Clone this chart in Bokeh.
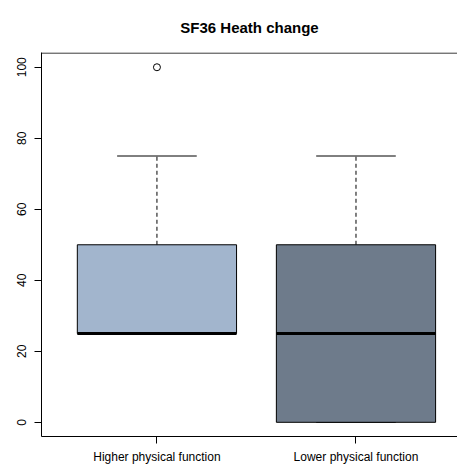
from bokeh.plotting import figure
from bokeh.models import Range1d, FixedTicker, ColumnDataSource, Span
from bokeh.embed import file_html
from bokeh.resources import INLINE

# Summary statistics of SF36 health change per group
groups = ["Higher physical function", "Lower physical function"]
positions = [1, 2]
lower_whisker = [25, 0]
q1 = [25, 0]
median = [25, 25]
q3 = [50, 50]
upper_whisker = [75, 75]
box_colors = ["#A2B5CD", "#6E7B8B"]
outlier_x = [1]
outlier_y = [100]
y_ticks = [0, 20, 40, 60, 80, 100]

FONT = "Liberation Sans"
half_box = 0.4
half_cap = 0.2
y_top = 104

src = ColumnDataSource(dict(
    x=positions,
    left=[p - half_box for p in positions],
    right=[p + half_box for p in positions],
    cap_l=[p - half_cap for p in positions],
    cap_r=[p + half_cap for p in positions],
    lo=lower_whisker, q1=q1, med=median, q3=q3, hi=upper_whisker,
    color=box_colors,
))

p = figure(width=457, height=466, output_backend="svg", toolbar_location=None,
           x_range=Range1d(0.42, 2.51), y_range=Range1d(-4, y_top + 0.15),
           min_border_left=41, min_border_right=0, min_border_top=52,
           min_border_bottom=30, background_fill_color="white",
           border_fill_color="white", title="SF36 Heath change")
p.outline_line_color = None
p.grid.visible = False

# title
p.title.align = "center"
p.title.offset = 7
p.title.standoff = 33
p.title.text_font = FONT
p.title.text_font_size = "15px"
p.title.text_font_style = "bold"
p.title.text_color = "black"

# top edge of the plot box
p.add_layout(Span(location=y_top, dimension="width", line_color="black",
                  line_width=1))

# whiskers (dashed) and staples
p.segment(x0="x", y0="q3", x1="x", y1="hi", source=src, line_color="black",
          line_width=1, line_dash="4 3")
p.segment(x0="x", y0="lo", x1="x", y1="q1", source=src, line_color="black",
          line_width=1, line_dash="4 3")
p.segment(x0="cap_l", y0="hi", x1="cap_r", y1="hi", source=src, line_color="black")
p.segment(x0="cap_l", y0="lo", x1="cap_r", y1="lo", source=src, line_color="black")

# boxes and medians
p.quad(left="left", right="right", bottom="q1", top="q3", source=src,
       fill_color="color", line_color="black", line_width=1)
p.segment(x0="left", y0="med", x1="right", y1="med", source=src,
          line_color="black", line_width=3)

# outliers
p.scatter(outlier_x, outlier_y, marker="circle", size=7, fill_color=None,
          line_color="black", line_width=1)

# axes
xa = p.xaxis[0]
xa.ticker = FixedTicker(ticks=positions)
xa.major_label_overrides = {pos: g for pos, g in zip(positions, groups)}
xa.minor_tick_line_color = None
xa.major_tick_in = 0
xa.major_tick_out = 7
xa.major_label_standoff = 6
xa.major_label_text_font = FONT
xa.major_label_text_font_size = "12px"
xa.major_label_text_color = "black"
xa.axis_line_color = "black"
xa.major_tick_line_color = "black"

ya = p.yaxis[0]
ya.ticker = FixedTicker(ticks=y_ticks)
ya.minor_tick_line_color = None
ya.major_tick_in = 0
ya.major_tick_out = 7
ya.major_label_standoff = 8
ya.major_label_orientation = "vertical"
ya.major_label_text_font = FONT
ya.major_label_text_font_size = "12px"
ya.major_label_text_color = "black"
ya.axis_line_color = "black"
ya.major_tick_line_color = "black"

open("out.html", "w").write(file_html(p, INLINE))
